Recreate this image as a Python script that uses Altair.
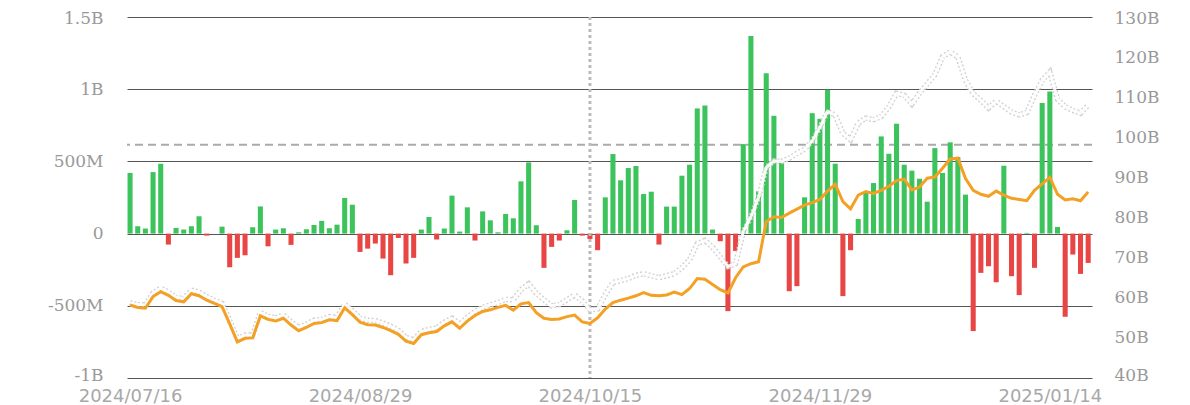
import altair as alt
import pandas as pd

# Daily net flow (millions)
flow_m = [420, 51, 35, 426, 484, -76, 39, 28, 51, 120,
          -14, 0, 48, -233, -168, -150, 44, 188, -88, 28,
          37, -78, 9, 30, 60, 88, 37, 62, 247, 200,
          -127, -104, -69, -173, -288, -30, -207, -168, 28, 115,
          -41, 35, 263, 14, 182, -48, 154, 92, 9, 136,
          106, 362, 493, 58, -237, -92, -48, 23, 233, -14,
          -37, -115, 251, 551, 369, 454, 468, 274, 290, -76,
          187, 187, 401, 477, 867, 887, 28, -53, -537, -120,
          620, 1369, 293, 1111, 816, 493, -399, -364, 251, 834,
          795, 996, 484, -433, -115, 101, 286, 350, 673, 553,
          761, 477, 436, 380, 221, 592, 420, 632, 530, 270,
          -675, -272, -226, -337, 470, -295, -426, 5, -237, 904,
          984, 46, -576, -145, -279, -203]

# Orange series (billions, right axis)
orange_b = [58.2, 57.6, 57.4, 60.3, 61.5, 60.6, 59.3, 59.0, 61.0, 60.5,
            59.4, 58.6, 57.8, 53.5, 49.0, 49.9, 50.0, 55.5, 54.6, 54.2,
            54.9, 53.2, 51.8, 52.6, 53.6, 53.8, 54.5, 54.3, 57.5, 55.8,
            53.9, 53.3, 53.2, 52.6, 51.8, 50.9, 49.2, 48.6, 50.8, 51.3,
            51.6, 53.0, 54.0, 52.4, 54.2, 55.6, 56.6, 57.0, 57.6, 58.1,
            56.9, 58.5, 58.8, 56.3, 54.9, 54.6, 54.7, 55.3, 55.7, 54.0,
            53.6, 55.0, 57.2, 58.8, 59.4, 59.9, 60.5, 61.3, 60.6, 60.5,
            60.7, 61.4, 60.8, 62.3, 64.8, 64.6, 63.3, 62.0, 61.2, 65.0,
            67.7, 68.5, 69.0, 79.0, 80.2, 80.0, 81.1, 82.1, 83.1, 83.7,
            84.5, 86.6, 88.3, 84.0, 82.2, 85.6, 86.5, 86.0, 86.8, 87.8,
            89.2, 89.6, 86.9, 87.6, 89.8, 90.1, 92.3, 94.6, 94.8, 89.7,
            86.8, 85.8, 85.3, 86.6, 85.6, 84.8, 84.5, 84.2, 86.8, 88.4,
            90.0, 85.8, 84.4, 84.7, 84.2, 86.4]

# White series (billions, right axis)
white_b = [58.8, 58.3, 58.2, 61.2, 62.4, 61.4, 60.1, 59.8, 61.9, 61.4,
           60.3, 59.4, 58.6, 54.3, 49.8, 50.7, 50.8, 56.3, 55.4, 55.0,
           55.7, 54.0, 52.6, 53.4, 54.4, 54.6, 55.3, 55.1, 58.4, 56.8,
           54.9, 54.4, 54.3, 53.7, 52.9, 51.9, 50.1, 49.5, 51.6, 52.1,
           52.5, 53.9, 54.9, 53.4, 55.1, 56.6, 57.6, 58.2, 58.8, 59.6,
           59.5, 62.0, 63.5, 61.1, 59.5, 58.0, 58.3, 59.5, 60.7, 59.2,
           57.0, 57.2, 60.8, 63.8, 64.3, 64.8, 65.6, 66.0, 65.5, 65.0,
           65.5, 66.0, 67.5, 69.5, 73.5, 74.3, 72.6, 70.2, 67.8, 68.5,
           76.5, 80.2, 85.0, 92.5, 94.1, 94.0, 94.8, 96.0, 97.0, 99.1,
           102.5, 106.5, 105.5, 101.0, 99.4, 103.5, 104.8, 104.4, 105.2, 107.6,
           111.0, 110.5, 108.3, 111.0, 113.3, 115.6, 120.1, 121.3, 120.0, 114.2,
           110.9, 109.2, 107.3, 109.0, 107.6, 106.3, 105.6, 106.2, 110.5, 114.2,
           116.3, 109.5, 107.6, 106.7, 106.0, 108.0]

tick_idx = [0, 30, 60, 90, 120]
tick_labels = ["2024/07/16", "2024/08/29", "2024/10/15", "2024/11/29", "2025/01/14"]
left_ticks = [-1e9, -5e8, 0, 5e8, 1e9, 1.5e9]
right_ticks = [40, 50, 60, 70, 80, 90, 100, 110, 120, 130]
ref_level = [615e6]
marker_idx = [60]

n = len(flow_m)
df = pd.DataFrame({
    "i": list(range(n)),
    "flow": [v * 1e6 for v in flow_m],
    "orange": orange_b,
    "white": white_b,
    "sign": ["pos" if v >= 0 else "neg" for v in flow_m],
})
df["x0"] = df["i"] - 0.33
df["x1"] = df["i"] + 0.33
df["base"] = 0.0

x_expr = ""
for k, lab in zip(tick_idx, tick_labels):
    x_expr += f"datum.value == {k} ? '{lab}' : "
x_expr += "''"

x_scale = alt.Scale(domain=[-0.4, n - 0.5], nice=False, zero=False)
x_axis = alt.Axis(values=tick_idx, labelExpr=x_expr, grid=False, ticks=False,
                  domain=False, title=None, labelFont="DejaVu Sans",
                  labelFontSize=18, labelColor="#a8a8a8", labelPadding=9,
                  labelFlush=False)

left_scale = alt.Scale(domain=[-1e9, 1.5e9], nice=False)
left_axis = alt.Axis(orient="left", values=left_ticks,
                     labelExpr="datum.value == 0 ? '0' : (abs(datum.value) >= 1e9 ? (datum.value/1e9) + 'B' : (datum.value/1e6) + 'M')",
                     grid=True, gridColor="#555", gridWidth=1, ticks=False,
                     domain=False, title=None, labelFont="DejaVu Serif",
                     labelFontSize=17, labelColor="#999", labelPadding=24,
                     labelOffset={"condition": [{"test": "datum.value >= 1.5e9", "value": 1},
                                                {"test": "datum.value <= -1e9", "value": -3}],
                                  "value": 0})

right_scale = alt.Scale(domain=[40, 130], nice=False, zero=False)
right_axis = alt.Axis(orient="right", values=right_ticks,
                      labelExpr="datum.value + 'B'", grid=False, ticks=False,
                      domain=False, title=None, labelFont="DejaVu Serif",
                      labelFontSize=17, labelColor="#999", labelPadding=22,
                      labelOffset={"condition": [{"test": "datum.value >= 130", "value": 1},
                                                 {"test": "datum.value <= 40", "value": -3}],
                                   "value": 0})

base = alt.Chart(df)

ref_rule = alt.Chart(pd.DataFrame({"ref": ref_level})).mark_rule(
    color="#aaa", strokeWidth=2, strokeDash=[8, 5]
).encode(y=alt.Y("ref:Q", scale=left_scale, axis=left_axis))

bars = base.mark_bar().encode(
    x=alt.X("x0:Q", scale=x_scale, axis=x_axis),
    x2="x1:Q",
    y=alt.Y("flow:Q", scale=left_scale, axis=left_axis),
    y2="base:Q",
    color=alt.Color("sign:N", scale=alt.Scale(domain=["pos", "neg"],
                                              range=["#3cc35c", "#e84545"]),
                    legend=None),
)

vline = alt.Chart(pd.DataFrame({"m": marker_idx})).mark_rule(
    color="#bbb", strokeWidth=3, strokeDash=[3, 3]
).encode(x=alt.X("m:Q", scale=x_scale, axis=x_axis))

left_layer = alt.layer(ref_rule, bars, vline)

white_under = base.mark_line(color="#d0d0d0", strokeWidth=5.5, strokeDash=[2, 2]).encode(
    x=alt.X("i:Q", scale=x_scale, axis=x_axis),
    y=alt.Y("white:Q", scale=right_scale, axis=right_axis),
)
white_top = base.mark_line(color="#ffffff", strokeWidth=3, opacity=0.9).encode(
    x=alt.X("i:Q", scale=x_scale, axis=x_axis),
    y=alt.Y("white:Q", scale=right_scale, axis=right_axis),
)
orange_line = base.mark_line(color="#f4a024", strokeWidth=3).encode(
    x=alt.X("i:Q", scale=x_scale, axis=x_axis),
    y=alt.Y("orange:Q", scale=right_scale, axis=right_axis),
)
right_layer = alt.layer(white_under, white_top, orange_line)

chart = alt.layer(left_layer, right_layer).resolve_scale(y="independent").properties(
    width=965, height=361,
    padding={"left": 119, "top": 9, "right": 90, "bottom": 28},
    autosize=alt.AutoSizeParams(type="none"),
    background="white",
).configure_view(stroke=None)

chart.save("out.html", embed_options={"renderer": "svg", "actions": False})
